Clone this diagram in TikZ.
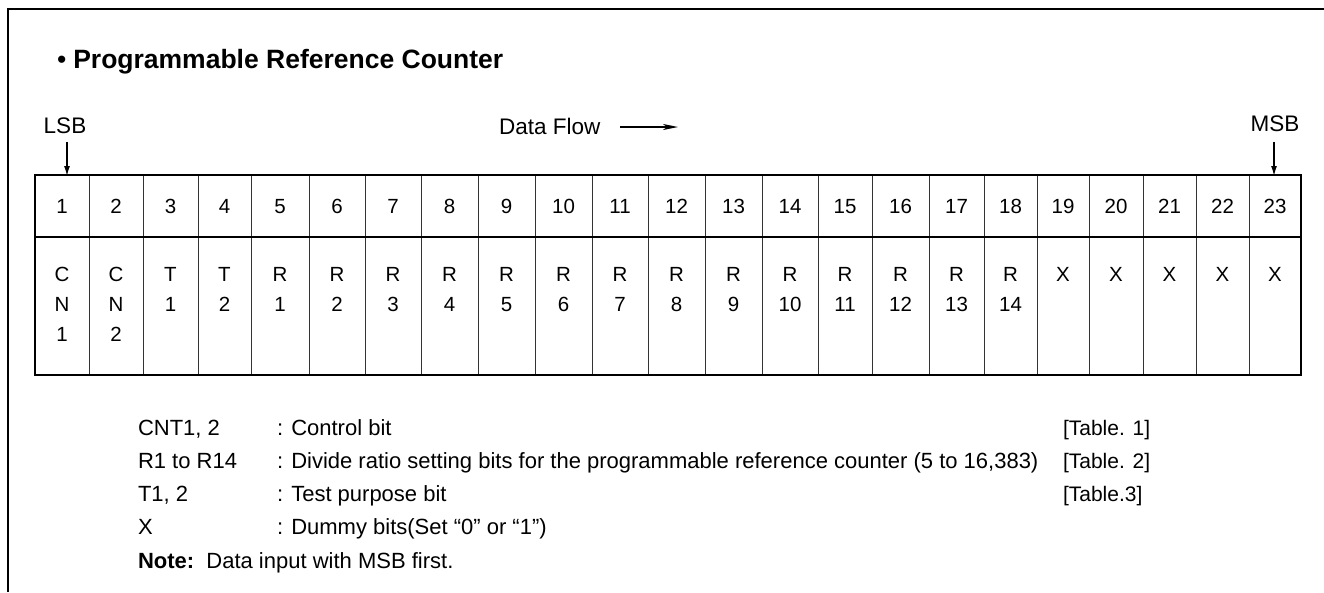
\documentclass[tikz,border=0pt]{standalone}
\usepackage{fontspec}
\setmainfont{Liberation Sans}
\usetikzlibrary{arrows.meta}
\begin{document}
\begin{tikzpicture}[x=1pt,y=-1pt,
  txt/.style={inner sep=0pt, outer sep=0pt},
  cellfont/.style={font=\fontsize{20.5}{24}\selectfont},
  bigfont/.style={font=\fontsize{22.5}{27}\selectfont},
  legfont/.style={font=\fontsize{22}{26}\selectfont},
  tabfont/.style={font=\fontsize{21}{25}\selectfont},
  frameline/.style={line width=1.5pt, draw=black},
  outerline/.style={line width=2.5pt, draw=black},
  innerline/.style={line width=1pt, draw=black!80},
  ptr/.style={line width=1.4pt, -{Latex[length=10pt,width=6pt]}},
  flow/.style={line width=1.4pt, -{Stealth[length=15pt,width=6pt,inset=4pt]}}]
\useasboundingbox (0,0) rectangle (1324,592);
% outer frame (top and left only visible)
\draw[frameline] (8,592) -- (8,9) -- (1324,9);
% title
\node[txt, anchor=base west, font=\fontsize{26.5}{30}\selectfont] (title) at (57,68) {\textbullet\hspace{7pt}\textbf{Programmable Reference Counter}};
% LSB / MSB / Data flow
\node[txt, bigfont, anchor=base] (lsb) at (65,133) {LSB};
\node[txt, bigfont, anchor=base] (msb) at (1275,131) {MSB};
\node[txt, bigfont, anchor=base west] (flowtxt) at (499,134) {Data Flow};
\coordinate (lsbs) at (67,142);
\coordinate (lsbt) at (67,176);
\coordinate (msbs) at (1274,142);
\coordinate (msbt) at (1274,176);
\coordinate (flows) at (620,127);
\coordinate (flowt) at (678,127);
\draw[ptr] (lsbs) -- (lsbt);
\draw[ptr] (msbs) -- (msbt);
\draw[flow] (flows) -- (flowt);
% table
\foreach \a/\b/\n/\t [count=\i] in {
  35/89/1/{C,N,1}, 89/143/2/{C,N,2}, 143/198/3/{T,1}, 198/251/4/{T,2},
  251/309/5/{R,1}, 309/365/6/{R,2}, 365/421/7/{R,3}, 421/478/8/{R,4},
  478/535/9/{R,5}, 535/592/10/{R,6}, 592/648/11/{R,7}, 648/705/12/{R,8},
  705/762/13/{R,9}, 762/818/14/{R,10}, 818/872/15/{R,11}, 872/929/16/{R,12},
  929/984/17/{R,13}, 984/1037/18/{R,14}, 1037/1089/19/{X}, 1089/1143/20/{X},
  1143/1196/21/{X}, 1196/1249/22/{X}, 1249/1301/23/{X}} {
  \pgfmathsetmacro{\cx}{(\a+\b)/2}
  \draw[innerline] (\b,175) -- (\b,375);
  \node[txt, cellfont, anchor=base] (h\i) at (\cx,213) {\n};
  \foreach \l [count=\j] in \t {
    \node[txt, cellfont, anchor=base] (b\i-\j) at (\cx,251+30*\j) {\l};
  }
}
\draw[outerline] (35,237) -- (1301,237);
\draw[outerline] (35,175) rectangle (1301,375);
% legend
\foreach \k/\lab/\y in {1/{CNT1, 2}/435, 2/{R1 to R14}/468, 3/{T1, 2}/501, 4/{X}/534} {
  \node[txt, legfont, anchor=base west] (lab\k) at (138,\y) {\lab};
}
\node[txt, legfont, anchor=base west] (desc1) at (277,435) {: Control bit};
\node[txt, legfont, anchor=base west] (desc2) at (277,468) {: Divide ratio setting bits for the programmable reference counter (5 to 16,383)};
\node[txt, legfont, anchor=base west] (desc3) at (277,501) {: Test purpose bit};
\node[txt, legfont, anchor=base west] (desc4) at (277,534) {: Dummy bits(Set “0” or “1”)};
\node[txt, tabfont, anchor=base west] (tab1) at (1063,435) {[Table. 1]};
\node[txt, tabfont, anchor=base west] (tab2) at (1063,468) {[Table. 2]};
\node[txt, tabfont, anchor=base west] (tab3) at (1063,501) {[Table.3]};
\node[txt, legfont, anchor=base west] (note) at (138,568) {\textbf{Note:}\ \ Data input with MSB first.};
\end{tikzpicture}
\end{document}
